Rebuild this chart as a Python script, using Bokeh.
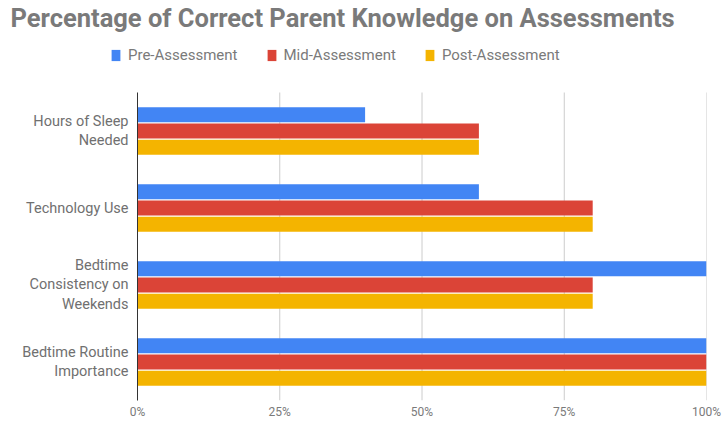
from bokeh.plotting import figure
from bokeh.models import (ColumnDataSource, Range1d, FixedTicker,
                          NumeralTickFormatter, Legend, LegendItem)
from bokeh.core.properties import value
from bokeh.transform import dodge
from bokeh.embed import file_html
from bokeh.resources import INLINE

categories = ["Hours of Sleep\nNeeded", "Technology Use",
              "Bedtime\nConsistency on\nWeekends", "Bedtime Routine\nImportance"]
series_names = ["Pre-Assessment", "Mid-Assessment", "Post-Assessment"]
pre = [0.40, 0.60, 1.00, 1.00]
mid = [0.60, 0.80, 0.80, 1.00]
post = [0.60, 0.80, 0.80, 1.00]
colors = ["#4285F4", "#DB4437", "#F4B400"]
x_ticks = [0, 0.25, 0.5, 0.75, 1.0]

n = len(categories)
ypos = list(range(n))
source = ColumnDataSource(dict(y=ypos, cat=categories, x0=[x_ticks[0]] * n,
                               pre=pre, mid=mid, post=post))

W, H = 727, 436
top_border, bottom_border = 32, 36
right_border = 21
zero_px = 137
frame_h = H - top_border - bottom_border
frame_w = W - right_border
unit = 77.0
span = frame_h / unit
px_per_x = frame_w - zero_px
p = figure(width=W, height=H, output_backend="svg", toolbar_location=None,
           x_range=Range1d(-zero_px / px_per_x, 1),
           y_range=Range1d(start=n - 0.5, end=n - 0.5 - span))
p.min_border_left = 0
p.min_border_right = right_border
p.min_border_bottom = bottom_border
p.min_border_top = top_border
p.outline_line_color = None

p.title.text = "Percentage of Correct Parent Knowledge on Assessments"
p.title.text_font = "Roboto"
p.title.text_font_size = "25.5px"
p.title.text_font_style = "bold"
p.title.text_color = "#7a7a7a"
p.title.offset = 10
p.title.standoff = 0

# gridlines (limited to bar area) and zero baseline
grid_src = ColumnDataSource(dict(x=x_ticks[1:], y0=[n - 0.5] * 4, y1=[-0.5] * 4))
p.segment(x0="x", x1="x", y0="y0", y1="y1", source=grid_src,
          line_color="#cccccc", line_width=1, level="underlay")

offsets = [-0.21, 0.0, 0.21]
cols = ["pre", "mid", "post"]
renderers = []
for off, col, c in zip(offsets, cols, colors):
    r = p.hbar(y=dodge("y", off), right=col, left=0,
               height=0.195, source=source, fill_color=c, line_color=None)
    renderers.append(r)

p.segment(x0=[x_ticks[0]], x1=[x_ticks[0]], y0=[n - 0.5 + 0.03], y1=[-0.5],
          line_color="#333333", line_width=1)

# category labels
p.text(x="x0", y="y", text="cat", source=source, x_offset=-9,
       text_align="right", text_baseline="middle",
       text_font=value("Roboto"), text_font_size="14.5px",
       text_color="#707070", text_line_height=1.12)

legend = Legend(items=[LegendItem(label=s, renderers=[r]) for s, r in zip(series_names, renderers)],
                orientation="horizontal", location=(110, frame_h - 32))
legend.label_text_font = "Roboto"
legend.label_text_font_size = "15px"
legend.label_text_color = "#7a7a7a"
legend.glyph_width = 11
legend.glyph_height = 14
legend.spacing = 28
legend.label_standoff = 7
legend.border_line_color = None
legend.background_fill_alpha = 0
legend.margin = 0
legend.padding = 6
p.add_layout(legend, "center")

p.xaxis.ticker = FixedTicker(ticks=x_ticks)
p.xaxis.formatter = NumeralTickFormatter(format="0%")
p.xaxis.axis_line_color = None
p.xaxis.major_tick_line_color = None
p.xaxis.minor_tick_line_color = None
p.xaxis.major_label_text_font = "Roboto"
p.xaxis.major_label_text_font_size = "12px"
p.xaxis.major_label_text_color = "#7a7a7a"
p.xaxis.major_label_standoff = -2

p.yaxis.visible = False
p.xgrid.grid_line_color = None
p.ygrid.grid_line_color = None

open("out.html", "w").write(file_html(p, INLINE))
